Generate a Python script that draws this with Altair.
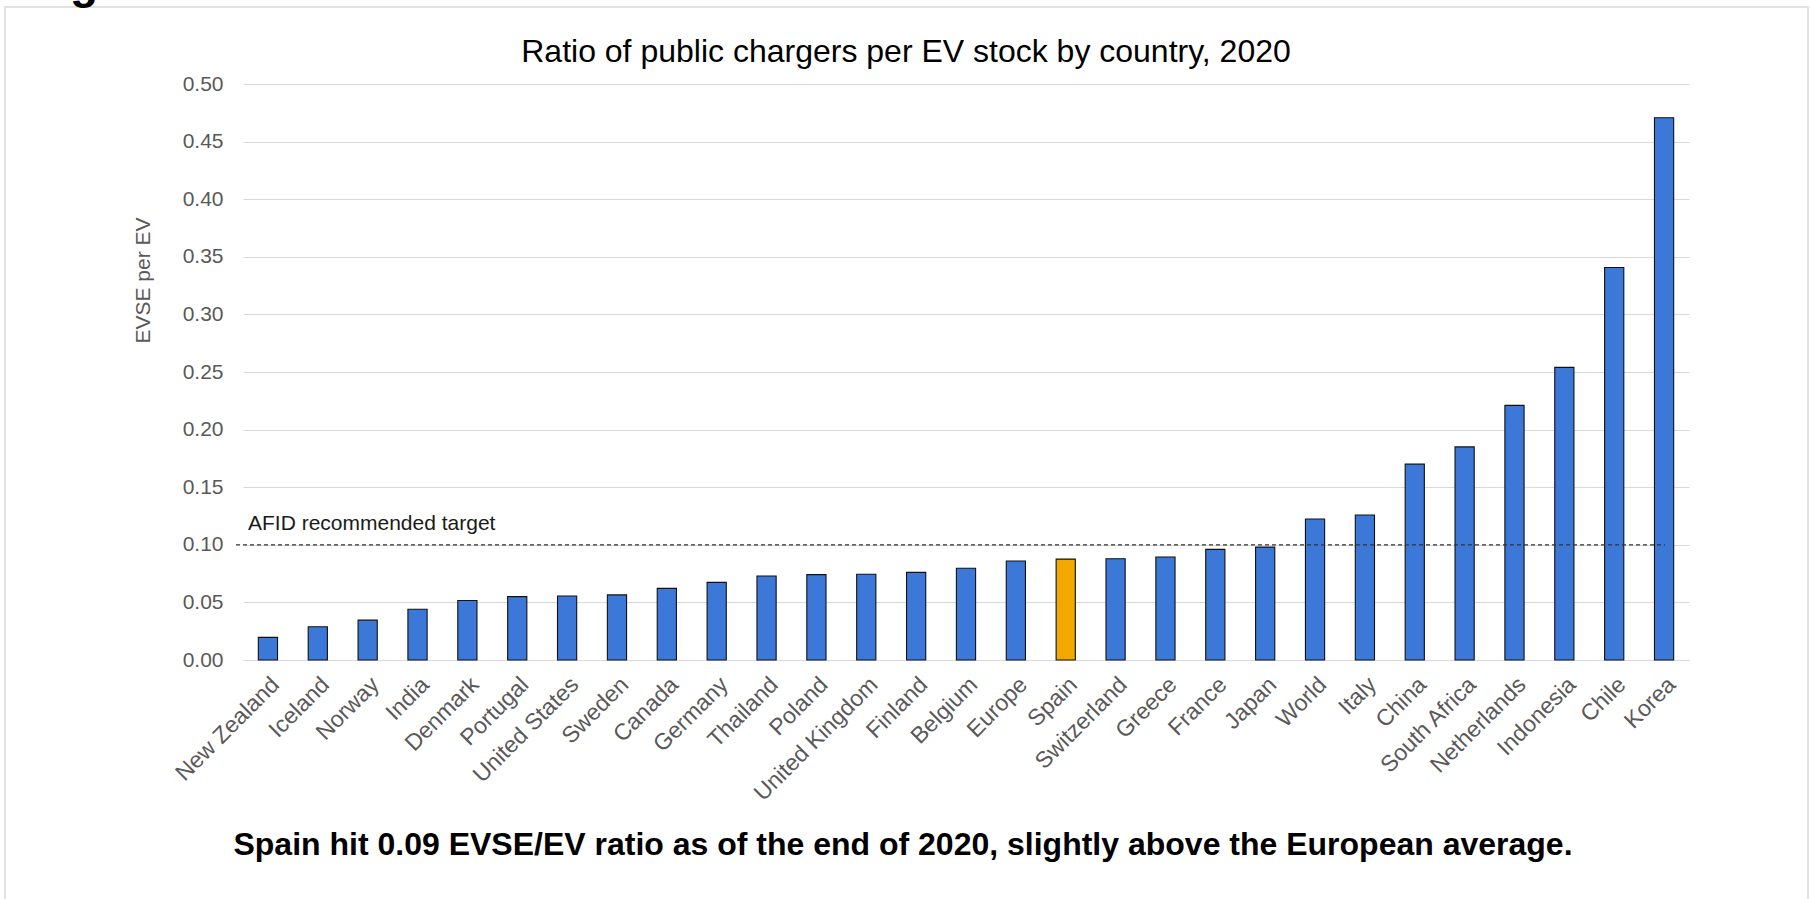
import altair as alt
import pandas as pd

countries = ["New Zealand", "Iceland", "Norway", "India", "Denmark", "Portugal",
             "United States", "Sweden", "Canada", "Germany", "Thailand", "Poland",
             "United Kingdom", "Finland", "Belgium", "Europe", "Spain", "Switzerland",
             "Greece", "France", "Japan", "World", "Italy", "China", "South Africa",
             "Netherlands", "Indonesia", "Chile", "Korea"]
values = [0.0196, 0.0288, 0.0346, 0.0441, 0.0516, 0.0550, 0.0556, 0.0565, 0.0622,
          0.0674, 0.0729, 0.0741, 0.0744, 0.0761, 0.0796, 0.0859, 0.0876, 0.0879,
          0.0894, 0.0960, 0.0980, 0.1224, 0.1259, 0.170, 0.185, 0.221, 0.254,
          0.3407, 0.4707]
highlight = "Spain"
target = 0.10
y_ticks = [0.0, 0.05, 0.10, 0.15, 0.20, 0.25, 0.30, 0.35, 0.40, 0.45, 0.50]

title_text = "Ratio of public chargers per EV stock by country, 2020"
caption_text = "Spain hit 0.09 EVSE/EV ratio as of the end of 2020, slightly above the European average."
target_label = "AFID recommended target"
y_title = "EVSE per EV"

FONT = "Liberation Sans, Arial, sans-serif"
GRAY = "#595959"
BLUE = "#3c78d8"
ORANGE = "#f1a900"

df = pd.DataFrame({
    "country": countries,
    "value": values,
    "group": ["Spain" if c == highlight else "Other" for c in countries],
})

x_enc = alt.X("country:N", sort=countries,
              scale=alt.Scale(paddingInner=0.615, paddingOuter=0.3075),
              axis=alt.Axis(title=None, labelAngle=-45, labelFontSize=23,
                            labelColor=GRAY, labelFont=FONT, labelPadding=13,
                            ticks=False, domainColor="#d9d9d9", domainWidth=1,
                            grid=False, labelOverlap=False))
y_scale = alt.Scale(domain=[0, 0.5], nice=False, zero=True)

bars = alt.Chart(df).mark_bar(stroke="#111111", strokeWidth=1.1).encode(
    x=x_enc,
    y=alt.Y("value:Q", scale=y_scale,
            axis=alt.Axis(values=y_ticks, format=".2f", title=y_title,
                          titleFontSize=21, titleFontWeight="normal",
                          titleColor=GRAY, titleFont=FONT, titleAngle=-90,
                          titleX=-100, titleY=196, titleAlign="center",
                          titleBaseline="middle",
                          labelFontSize=21, labelColor=GRAY, labelFont=FONT,
                          labelPadding=20, ticks=False, domain=False,
                          gridColor="#d9d9d9", gridWidth=1)),
    color=alt.Color("group:N", scale=alt.Scale(domain=["Other", "Spain"],
                                               range=[BLUE, ORANGE]), legend=None),
)

tdf = pd.DataFrame({"y": [target], "label": [target_label]})
rule = alt.Chart(tdf).mark_rule(color="#333333", strokeDash=[4, 3], strokeWidth=1.2).encode(
    x=alt.value(-7), x2=alt.value(1422),
    y=alt.Y("y:Q", scale=y_scale),
)
rule_text = alt.Chart(tdf).mark_text(align="left", baseline="alphabetic", dy=-15,
                                     fontSize=21, font=FONT, color="#1a1a1a").encode(
    x=alt.value(5), y=alt.Y("y:Q", scale=y_scale), text="label:N",
)

title = alt.Chart(pd.DataFrame({"t": [title_text]})).mark_text(
    align="center", baseline="middle", fontSize=32, font=FONT, color="#000000"
).encode(x=alt.value(663), y=alt.value(-32), text="t:N")

caption = alt.Chart(pd.DataFrame({"t": [caption_text]})).mark_text(
    align="center", baseline="middle", fontSize=32, fontWeight="bold", font=FONT,
    color="#000000"
).encode(x=alt.value(660), y=alt.value(761), text="t:N")

gfrag = alt.Chart(pd.DataFrame({"t": ["g"]})).mark_text(
    align="left", baseline="alphabetic", fontSize=46, fontWeight="bold", font=FONT,
    color="#000000"
).encode(x=alt.value(-173), y=alt.value(-86), text="t:N")

border = alt.Chart(pd.DataFrame({"a": [0]})).mark_rect(
    fill="transparent", stroke="#d9d9d9", strokeWidth=1.5
).encode(x=alt.value(-238), x2=alt.value(1565), y=alt.value(-77), y2=alt.value(830))

chart = alt.layer(border, bars, rule, rule_text, title, caption, gfrag).properties(
    width=1446, height=576,
    autosize=alt.AutoSizeParams(type="none"),
    padding={"left": 243, "top": 84, "right": 121, "bottom": 239},
    background="white",
).configure_view(stroke=None)

chart.save("out.html", embed_options={"renderer": "svg", "actions": False})
